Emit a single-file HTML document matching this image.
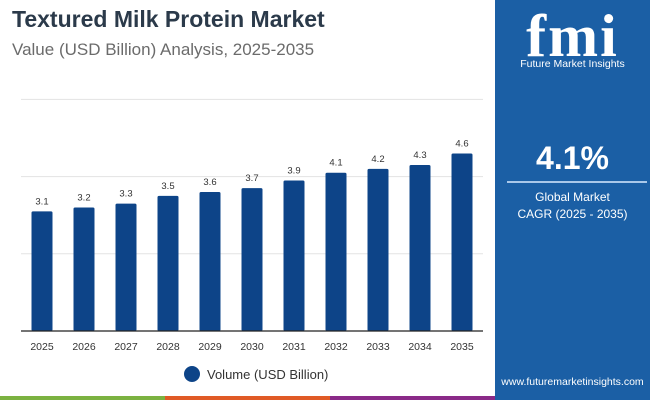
<!DOCTYPE html>
<html><head><meta charset="utf-8"><style>
body{margin:0;width:650px;height:400px;overflow:hidden;background:#fff;font-family:"Liberation Sans",sans-serif;position:relative}
.abs{position:absolute}
</style></head><body>
<div class="abs" style="left:12px;top:6px;font-size:23px;font-weight:bold;color:#2b3a4a">Textured Milk Protein Market</div>
<div class="abs" style="left:12px;top:40px;font-size:17px;color:#6b6b6b">Value (USD Billion) Analysis, 2025-2035</div>
<svg class="abs" style="left:0;top:0" width="495" height="400" id="chart"></svg>
<div class="abs" style="left:184px;top:366px;font-size:13px;color:#333;display:flex;align-items:center">
<span style="width:16px;height:16px;border-radius:50%;background:#0d4488;display:inline-block;margin-right:7px"></span>Volume (USD Billion)</div>
<div class="abs" style="left:0;top:396px;width:165px;height:4px;background:#7bb241"></div>
<div class="abs" style="left:165px;top:396px;width:165px;height:4px;background:#e05a26"></div>
<div class="abs" style="left:330px;top:396px;width:165px;height:4px;background:#8a2a88"></div>
<div class="abs" style="left:495px;top:0;width:155px;height:400px;background:#1b5fa5;color:#fff;text-align:center">
<div style="position:absolute;left:0;width:155px;top:2px;font-size:60px;font-weight:bold;font-family:'Liberation Serif',serif;letter-spacing:2px">fmi</div>
<div style="position:absolute;left:0;width:155px;top:58px;font-size:10.5px">Future Market Insights</div>
<div style="position:absolute;left:0;width:155px;top:140px;font-size:32px;font-weight:bold">4.1%</div>
<div style="position:absolute;left:12px;width:140px;top:181px;height:2px;background:#a9c8ea"></div>
<div style="position:absolute;left:0;width:155px;top:189px;font-size:12px;line-height:17px">Global Market<br>CAGR (2025 - 2035)</div>
<div style="position:absolute;left:0;width:155px;top:376px;font-size:10.5px">www.futuremarketinsights.com</div>
</div>
<script>
const categories=["2025","2026","2027","2028","2029","2030","2031","2032","2033","2034","2035"];
const values=[3.1,3.2,3.3,3.5,3.6,3.7,3.9,4.1,4.2,4.3,4.6];
const gridTicks=[2,4,6];
const svg=document.getElementById('chart');
const NS="http://www.w3.org/2000/svg";
const x0=21,x1=483,base=331,pxPerUnit=38.6;
const step=(x1-x0)/categories.length;
const xc=i=>x0+step*(i+0.5);
const y=v=>base-v*pxPerUnit;
function mk(t,a){const e=document.createElementNS(NS,t);for(const k in a)e.setAttribute(k,a[k]);svg.appendChild(e);return e;}
gridTicks.forEach(t=>{const l=mk('line',{x1:x0,x2:x1,y1:y(t),y2:y(t),stroke:'#e3e3e3','stroke-width':1});

});
categories.forEach((c,i)=>{
const r=mk('rect',{x:xc(i)-10.5,y:y(values[i]),width:21,height:values[i]*pxPerUnit,fill:'#0d4488',rx:1.5});


const v=mk('text',{x:xc(i),y:y(values[i])-7,'text-anchor':'middle','font-size':9.5,fill:'#333'});v.textContent=values[i].toFixed(1);


const t=mk('text',{x:xc(i),y:350,'text-anchor':'middle','font-size':10.5,fill:'#333'});t.textContent=c;


});
const ax=mk('line',{x1:x0,x2:x1,y1:base,y2:base,stroke:'#222','stroke-width':1.2});


</script>
</body></html>
